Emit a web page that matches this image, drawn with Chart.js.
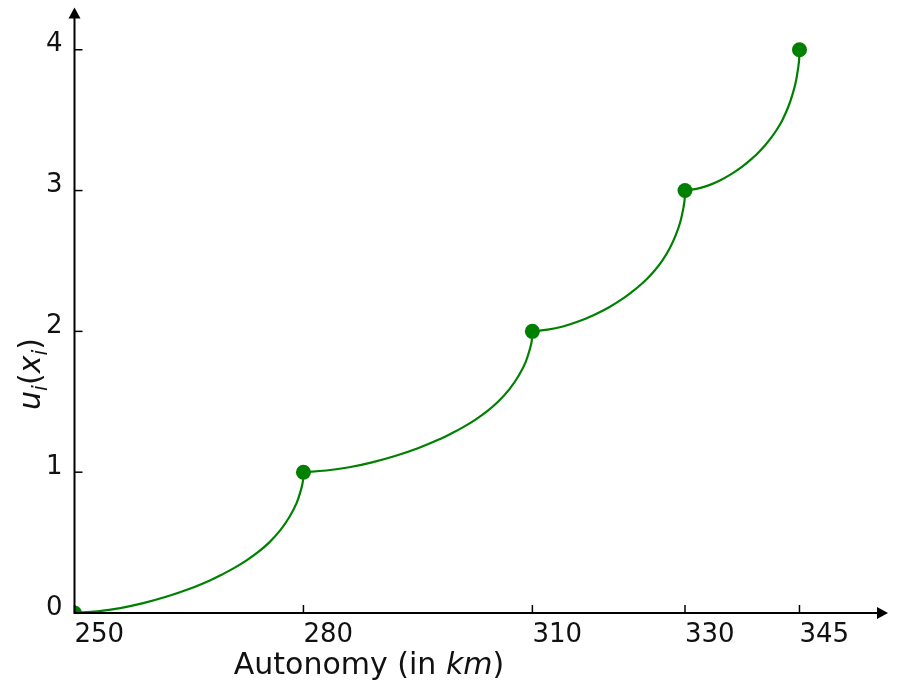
<!DOCTYPE html>
<html>
<head>
<meta charset="utf-8">
<script src="https://cdn.jsdelivr.net/npm/chart.js@4.4.0/dist/chart.umd.min.js"></script>
<style>
  html, body { margin: 0; padding: 0; background: #fff; }
  #wrap { width: 900px; height: 681px; }
</style>
</head>
<body>
<div id="wrap"><canvas id="chart" width="900" height="681"></canvas></div>
<script>
// tick values shown on the axes
const xTicks = [250, 280, 310, 330, 345];
const yTicks = [0, 1, 2, 3, 4];

// the marked points u_i(x_i)
const knotX = [250, 280, 310, 330, 345];
const knotY = [0, 1, 2, 3, 4];

// curve pieces between the marked points
const seg1X = [250, 253, 256, 259, 262, 265, 268, 269.5, 271, 272.5, 274, 275.5, 277, 278.2, 279.1, 279.7, 279.91, 280];
const seg1Y = [0, 0.012, 0.035, 0.07, 0.115, 0.17, 0.238, 0.278, 0.322, 0.372, 0.43, 0.5, 0.59, 0.685, 0.78, 0.88, 0.93, 1];
const seg2X = [280, 283, 286, 289, 292, 295, 298, 299.5, 301, 302.5, 304, 305.5, 307, 308.2, 309.1, 309.7, 309.91, 310];
const seg2Y = [1, 1.012, 1.035, 1.07, 1.115, 1.17, 1.238, 1.278, 1.322, 1.372, 1.43, 1.5, 1.59, 1.685, 1.78, 1.88, 1.93, 2];
const seg3X = [310, 312, 314, 316, 318, 320, 322, 323, 324, 325, 326, 327, 328, 328.8, 329.4, 329.8, 329.94, 330];
const seg3Y = [2, 2.012, 2.035, 2.07, 2.115, 2.17, 2.238, 2.278, 2.322, 2.372, 2.43, 2.5, 2.59, 2.685, 2.78, 2.88, 2.93, 3];
const seg4X = [330, 331.5, 333, 334.5, 336, 337.5, 339, 339.75, 340.5, 341.25, 342, 342.75, 343.5, 344.1, 344.55, 344.85, 344.955, 345];
const seg4Y = [3, 3.012, 3.035, 3.07, 3.115, 3.17, 3.238, 3.278, 3.322, 3.372, 3.43, 3.5, 3.59, 3.685, 3.78, 3.88, 3.93, 4];

const GREEN = "#008000";
const FONT = "'DejaVu Sans', sans-serif";

function curve(xs, ys) {
  return {
    data: xs.map((x, i) => ({ x: x, y: ys[i] })),
    showLine: true,
    borderColor: GREEN,
    borderWidth: 2.2,
    pointRadius: 0,
    tension: 0.4,
    clip: 10
  };
}

// axes with arrows, inward ticks, labels
const axesPlugin = {
  id: "axes",
  afterDraw(chart) {
    const { ctx, chartArea: a } = chart;
    const xs = chart.scales.x, ys = chart.scales.y;
    const x0 = xs.getPixelForValue(xTicks[0]);
    const y0 = ys.getPixelForValue(0);
    ctx.save();
    ctx.strokeStyle = "#000";
    ctx.fillStyle = "#000";
    ctx.lineWidth = 2;

    ctx.beginPath();
    ctx.moveTo(x0, y0); ctx.lineTo(a.right - 8, y0);
    ctx.moveTo(x0, y0 + 1); ctx.lineTo(x0, a.top + 8);
    ctx.stroke();

    ctx.beginPath();
    ctx.moveTo(a.right, y0); ctx.lineTo(a.right - 11, y0 - 6); ctx.lineTo(a.right - 11, y0 + 6);
    ctx.closePath(); ctx.fill();
    ctx.beginPath();
    ctx.moveTo(x0, a.top); ctx.lineTo(x0 - 6, a.top + 11); ctx.lineTo(x0 + 6, a.top + 11);
    ctx.closePath(); ctx.fill();

    ctx.lineWidth = 1.5;
    ctx.font = "26px " + FONT;
    ctx.fillStyle = "#111";
    xTicks.forEach(v => {
      const px = xs.getPixelForValue(v);
      ctx.beginPath(); ctx.moveTo(px, y0); ctx.lineTo(px, y0 - 8); ctx.stroke();
      ctx.textAlign = "left"; ctx.textBaseline = "alphabetic";
      ctx.fillText(String(v), px, y0 + 29);
    });
    yTicks.forEach(v => {
      const py = ys.getPixelForValue(v);
      ctx.beginPath(); ctx.moveTo(x0, py); ctx.lineTo(x0 + 8, py); ctx.stroke();
      ctx.textAlign = "right"; ctx.textBaseline = "middle";
      ctx.fillText(String(v), x0 - 12, py - 5);
    });

    // x title: Autonomy (in km)
    const fs = 30;
    const parts = [["Autonomy (in ", ""], ["km", "italic "], [")", ""]];
    let w = 0;
    parts.forEach(p => { ctx.font = p[1] + fs + "px " + FONT; w += ctx.measureText(p[0]).width; });
    let cx = 369 - w / 2;
    ctx.textAlign = "left"; ctx.textBaseline = "alphabetic";
    parts.forEach(p => {
      ctx.font = p[1] + fs + "px " + FONT;
      ctx.fillText(p[0], cx, 674);
      cx += ctx.measureText(p[0]).width;
    });

    // y title: u_i(x_i)
    const ypart = [["u", "italic ", 1, 0], ["i", "italic ", 0.7, 0.22], ["(", "", 1, 0],
                   ["x", "italic ", 1, 0], ["i", "italic ", 0.7, 0.22], [")", "", 1, 0]];
    let yw = 0;
    ypart.forEach(p => { ctx.font = p[1] + Math.round(fs * p[2]) + "px " + FONT; yw += ctx.measureText(p[0]).width; });
    ctx.save();
    ctx.translate(40, 374);
    ctx.rotate(-Math.PI / 2);
    let tx = -yw / 2;
    ypart.forEach(p => {
      ctx.font = p[1] + Math.round(fs * p[2]) + "px " + FONT;
      ctx.fillText(p[0], tx, p[3] * fs);
      tx += ctx.measureText(p[0]).width;
    });
    ctx.restore();
    ctx.restore();
  }
};

new Chart(document.getElementById("chart"), {
  type: "scatter",
  data: {
    datasets: [
      curve(seg1X, seg1Y), curve(seg2X, seg2Y), curve(seg3X, seg3Y), curve(seg4X, seg4Y),
      {
        data: knotX.map((x, i) => ({ x: x, y: knotY[i] })),
        pointRadius: 7.5,
        pointBackgroundColor: GREEN,
        pointBorderColor: GREEN,
        pointBorderWidth: 0,
        showLine: false,
        clip: 0
      }
    ]
  },
  options: {
    responsive: false,
    animation: false,
    layout: { padding: { left: 74.5, right: 12, top: 5.6, bottom: 68 } },
    scales: {
      x: { type: "linear", min: 250, max: 356.6, display: false },
      y: { type: "linear", min: 0, max: 4.3, display: false }
    },
    plugins: { legend: { display: false }, tooltip: { enabled: false } }
  },
  plugins: [axesPlugin]
});
</script>
</body>
</html>
